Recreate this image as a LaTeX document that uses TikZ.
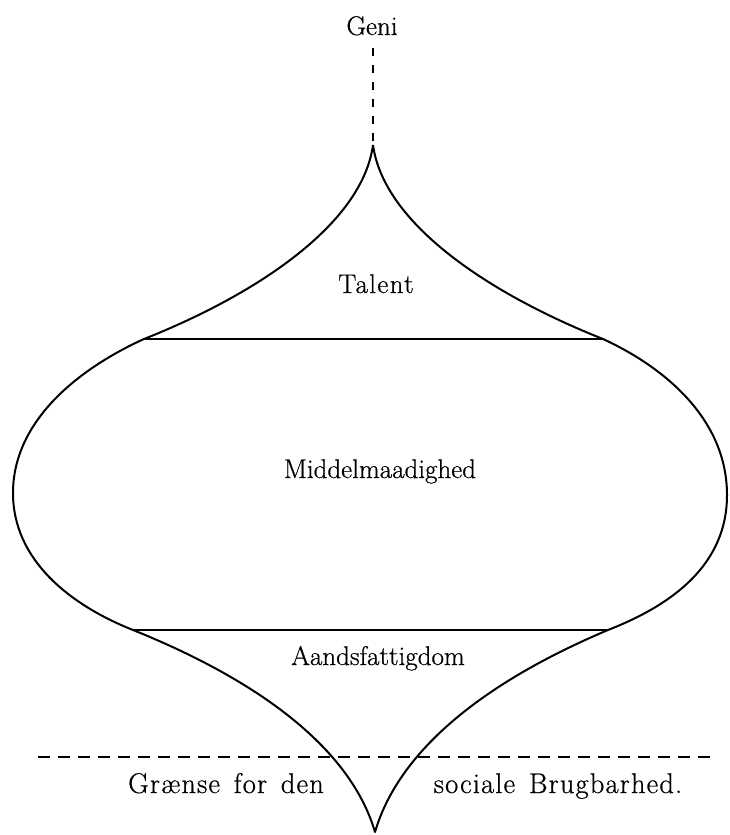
\documentclass[tikz,border=0pt]{standalone}
\usepackage{fontspec}
\setmainfont{Latin Modern Roman}[FakeBold=0.6]
\begin{document}
\begin{tikzpicture}[x=1pt,y=-1pt,
  outline/.style={line width=2pt,line join=round},
  divider/.style={line width=2.8pt},
  label/.style={inner sep=0pt,anchor=base,font=\fontsize{27}{30}\selectfont},
  smalllabel/.style={inner sep=0pt,anchor=base,font=\fontsize{28.5}{32}\selectfont\addfontfeatures{LetterSpace=4}},
  limitline/.style={line width=2pt,dash pattern=on 12pt off 8pt},
  geniline/.style={line width=1.6pt,dash pattern=on 8pt off 9pt}]
\useasboundingbox (0,0) rectangle (730,835);
% key points
\coordinate (T) at (373,145);
\coordinate (L1) at (144,339);
\coordinate (R1) at (603,339);
\coordinate (LX) at (13,493);
\coordinate (RX) at (727,495);
\coordinate (L2) at (133,630);
\coordinate (R2) at (608,630);
\coordinate (B) at (375,832);
% outline
\draw[outline] (T) .. controls (362,225) and (255,295) .. (L1)
  .. controls (80,368) and (13,420) .. (LX)
  .. controls (13,560) and (70,605) .. (L2)
  .. controls (220,665) and (345,730) .. (B)
  .. controls (405,730) and (525,665) .. (R2)
  .. controls (672,605) and (727,565) .. (RX)
  .. controls (727,420) and (666,368) .. (R1)
  .. controls (492,295) and (384,225) .. (T);
% dividers
\draw[divider] (L1) -- (R1);
\draw[divider] (L2) -- (R2);
% labels
\node[label] (geni) at (372,35) {Geni};
\node[label,font=\fontsize{27}{30}\selectfont\addfontfeatures{LetterSpace=5}] (talent) at (376,293) {Talent};
\node[label] (middel) at (380,478) {Middelmaadighed};
\node[label] (aands) at (378,665) {Aandsfattigdom};
\node[smalllabel] (graense) at (226,793) {Grænse\hspace{4pt} for\hspace{4pt} den};
\node[smalllabel] (sociale) at (558,793) {sociale\hspace{4pt} Brugbarhed.};
% geni dashed line
\coordinate (gtop) at (373,48);
\draw[geniline] (gtop) -- (T);
% limit line
\coordinate (limL) at (38,757);
\coordinate (limR) at (714,757);
\draw[limitline] (limL) -- (limR);
\end{tikzpicture}
\end{document}
